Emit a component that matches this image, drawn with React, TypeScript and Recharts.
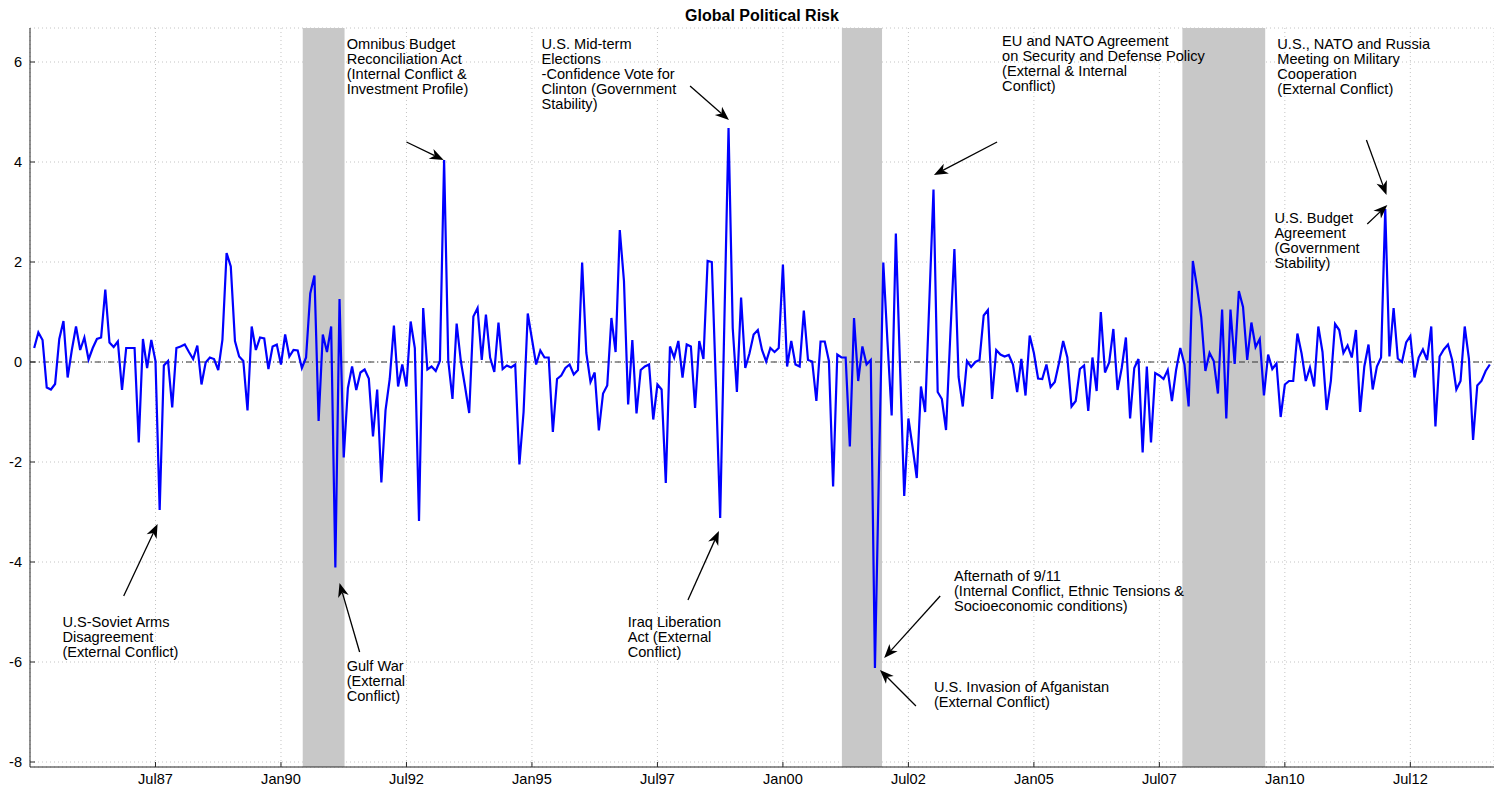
import React from 'react';
import {
  LineChart,
  Line,
  XAxis,
  YAxis,
  CartesianGrid,
  ReferenceArea,
  ReferenceLine,
  ReferenceDot,
} from 'recharts';

// month index counted from Jan 1985 (= 0); first observation is month 1
const startMonth = 1;

const riskValues: number[] = [
  0.28, 0.59, 0.44, -0.51, -0.55, -0.44, 0.46, 0.82, -0.31, 0.24, 0.71, 0.24,
  0.49, 0.05, 0.28, 0.46, 0.49, 1.45, 0.39, 0.3, 0.41, -0.56, 0.28, 0.28,
  0.28, -1.61, 0.46, -0.12, 0.44, 0.02, -2.96, -0.07, 0.02, -0.91, 0.28, 0.31,
  0.35, 0.2, 0.06, 0.33, -0.45, -0.01, 0.09, 0.06, -0.16, 0.44, 2.18, 1.91,
  0.42, 0.11, 0.02, -0.97, 0.71, 0.24, 0.49, 0.47, -0.14, 0.31, 0.35, -0.05,
  0.55, 0.11, 0.24, 0.23, -0.12, 0.09, 1.37, 1.73, -1.18, 0.55, 0.2, 0.71,
  -4.11, 1.26, -1.91, -0.52, -0.09, -0.56, -0.21, -0.15, -0.33, -1.49, -0.55, -2.41,
  -0.96, -0.34, 0.73, -0.49, -0.05, -0.49, 0.81, 0.28, -3.18, 1.08, -0.15, -0.09,
  -0.18, 0.02, 4.04, 0.02, -0.74, 0.77, 0.02, -0.49, -1.02, 0.91, 1.08, 0.04,
  0.95, 0.09, -0.2, 0.79, -0.14, -0.07, -0.11, -0.05, -2.05, -1.0, 0.97, 0.46,
  -0.05, 0.23, 0.09, 0.09, -1.4, -0.34, -0.27, -0.12, -0.05, -0.25, -0.16, 1.99,
  0.18, -0.4, -0.21, -1.37, -0.63, -0.47, 0.88, 0.2, 2.64, 1.62, -0.85, 0.44,
  -1.03, -0.16, -0.09, -0.05, -1.15, -0.45, -0.55, -2.42, 0.31, 0.09, 0.42, -0.31,
  0.35, 0.31, -0.92, 0.42, 0.06, 2.02, 2.0, -0.5, -3.12, 0.8, 4.68, 0.68,
  -0.6, 1.29, -0.12, 0.17, 0.55, 0.64, 0.24, 0.01, 0.28, 0.2, 0.28, 1.95,
  -0.09, 0.42, -0.05, -0.09, 1.03, 0.04, 0.01, -0.78, 0.41, 0.41, 0.02, -2.49,
  0.15, 0.09, 0.09, -1.69, 0.88, -0.38, 0.31, -0.05, 0.04, -6.12, -2.0, 1.99,
  0.4, -1.07, 2.57, -0.1, -2.68, -1.13, -1.7, -2.32, -0.49, -1.0, 1.2, 3.45,
  -0.6, -0.74, -1.36, 0.5, 2.26, -0.3, -0.89, 0.02, -0.1, 0.0, 0.04, 0.93,
  1.04, -0.74, 0.24, 0.15, 0.11, 0.14, -0.05, -0.6, 0.06, -0.67, 0.53, 0.18,
  -0.33, -0.34, -0.05, -0.5, -0.4, -0.02, 0.42, 0.09, -0.89, -0.78, -0.14, -0.07,
  -0.98, 0.09, -0.58, 1.0, -0.21, -0.01, 0.66, -0.56, -0.12, 0.49, -1.13, -0.12,
  0.06, -1.81, -0.09, -1.61, -0.22, -0.27, -0.34, -0.16, -0.78, -0.16, 0.28, -0.05,
  -0.89, 2.02, 1.5, 0.9, -0.18, 0.18, 0.02, -0.63, 1.05, -1.13, 1.05, -0.04,
  1.42, 1.1, 0.04, 0.79, 0.3, 0.46, -0.67, 0.15, -0.14, -0.03, -1.1, -0.45,
  -0.38, -0.38, 0.57, 0.17, -0.38, -0.11, -0.49, 0.71, 0.2, -0.96, -0.38, 0.76,
  0.64, 0.18, 0.33, 0.09, 0.64, -1.0, -0.09, 0.35, -0.55, -0.09, 0.09, 3.06,
  0.11, 1.08, 0.07, 0.0, 0.39, 0.52, -0.31, 0.09, 0.25, 0.04, 0.71, -1.29,
  0.11, 0.25, 0.35, 0.04, -0.55, -0.38, 0.71, 0.07, -1.56, -0.47, -0.38, -0.18,
  -0.05,
];

const tickMonths = [30, 60, 90, 120, 150, 180, 210, 240, 270, 300, 330];
const tickLabels = ['Jul87', 'Jan90', 'Jul92', 'Jan95', 'Jul97', 'Jan00', 'Jul02', 'Jan05', 'Jul07', 'Jan10', 'Jul12'];
const yTicks = [-8, -6, -4, -2, 0, 2, 4, 6];

const recessionStarts = [65.2, 194.1, 275.5];
const recessionEnds = [75.2, 203.7, 295.3];

const noteX = [7.75, 75.7, 75.7, 122.3, 142.9, 232.4, 220.9, 216.1, 298.2, 297.5];
const noteY = [-5.3, -6.18, 6.26, 6.26, -5.3, 6.32, -4.38, -6.6, 6.26, 2.78];
const noteLines: string[][] = [
  ['U.S-Soviet Arms', 'Disagreement', '(External Conflict)'],
  ['Gulf War', '(External', 'Conflict)'],
  ['Omnibus Budget', 'Reconciliation Act', '(Internal Conflict &', 'Investment Profile)'],
  ['U.S. Mid-term', 'Elections', '-Confidence Vote for', 'Clinton (Government', 'Stability)'],
  ['Iraq Liberation', 'Act (External', 'Conflict)'],
  ['EU and NATO Agreement', 'on Security and Defense Policy', '(External & Internal', 'Conflict)'],
  ['Afternath of 9/11', '(Internal Conflict, Ethnic Tensions &', 'Socioeconomic conditions)'],
  ['U.S. Invasion of Afganistan', '(External Conflict)'],
  ['U.S., NATO and Russia', 'Meeting on Military', 'Cooperation', '(External Conflict)'],
  ['U.S. Budget', 'Agreement', '(Government', 'Stability)'],
];

const arrowTailX = [22.4, 78.8, 90.0, 157.8, 157.3, 231.2, 217.6, 211.8, 319.5, 319.7];
const arrowTailY = [-4.68, -5.8, 4.4, 5.52, -4.76, 4.4, -4.68, -6.88, 4.44, 2.76];
const arrowHeadX = [30.5, 74.0, 98.9, 167.1, 164.7, 216.1, 204.2, 203.2, 324.3, 324.5];
const arrowHeadY = [-3.24, -4.42, 4.04, 4.84, -3.38, 3.74, -5.92, -6.16, 3.34, 3.14];

const FONT = '"Liberation Sans", Arial, Helvetica, sans-serif';
const AXIS_COLOR = '#262626';
const TEXT_SIZE = 14.6;

const data = riskValues.map((v, i) => ({ m: startMonth + i, v }));

const YTick = (props: any) => {
  const { x, y, payload } = props;
  return (
    <g>
      <line x1={x} x2={x + 5} y1={y} y2={y} stroke={AXIS_COLOR} strokeWidth={1} />
      <text x={x - 8} y={y} dy={5} textAnchor="end" fontSize={TEXT_SIZE} fontFamily={FONT} fill="#000">
        {payload.value}
      </text>
    </g>
  );
};

const XTick = (props: any) => {
  const { x, y, payload } = props;
  const idx = tickMonths.indexOf(payload.value);
  return (
    <g>
      <line x1={x} x2={x} y1={y} y2={y - 5} stroke={AXIS_COLOR} strokeWidth={1} />
      <text x={x} y={y} dy={17} textAnchor="middle" fontSize={TEXT_SIZE} fontFamily={FONT} fill="#000">
        {idx >= 0 ? tickLabels[idx] : ''}
      </text>
    </g>
  );
};

const ArrowShape = (p: any) => {
  const { x1, y1, x2, y2 } = p;
  const dx = x2 - x1;
  const dy = y2 - y1;
  const len = Math.hypot(dx, dy) || 1;
  const ux = dx / len;
  const uy = dy / len;
  const px = -uy;
  const py = ux;
  const L = 14;
  const W = 5.5;
  const notch = 10;
  const bx = x2 - ux * L;
  const by = y2 - uy * L;
  const nx = x2 - ux * notch;
  const ny = y2 - uy * notch;
  return (
    <g>
      <line x1={x1} y1={y1} x2={nx} y2={ny} stroke="#000" strokeWidth={1.3} />
      <polygon
        points={`${x2},${y2} ${bx + px * W},${by + py * W} ${nx},${ny} ${bx - px * W},${by - py * W}`}
        fill="#000"
      />
    </g>
  );
};

const makeNote = (lines: string[]) => (p: any) => {
  const { cx, cy } = p;
  return (
    <text x={cx} y={cy} fontSize={TEXT_SIZE} fontFamily={FONT} fill="#000">
      {lines.map((t, i) => (
        <tspan key={i} x={cx} y={cy + i * 15}>
          {t}
        </tspan>
      ))}
    </text>
  );
};

export default function App() {
  return (
    <div
      style={{
        position: 'absolute',
        left: 0,
        top: 0,
        width: 1494,
        height: 792,
        background: '#fff',
        fontFamily: FONT,
      }}
    >
      <div
        style={{
          position: 'absolute',
          left: 30,
          width: 1464,
          top: 7,
          textAlign: 'center',
          fontWeight: 'bold',
          fontSize: 16,
          lineHeight: '18px',
          fontFamily: FONT,
          color: '#000',
        }}
      >
        Global Political Risk
      </div>
      <LineChart width={1494} height={792} data={data} margin={{ top: 28, right: 0, bottom: 0, left: 0 }}>
        {recessionStarts.map((s, i) => (
          <ReferenceArea
            key={'r' + i}
            x1={s}
            x2={recessionEnds[i]}
            fill="#c8c8c8"
            fillOpacity={1}
            stroke="none"
            ifOverflow="visible"
          />
        ))}
        <CartesianGrid stroke="#c4c4c4" strokeDasharray="1 3" />
        <XAxis
          dataKey="m"
          type="number"
          domain={[0, 350]}
          ticks={tickMonths}
          allowDataOverflow
          height={25}
          tickSize={0}
          tickMargin={0}
          tickLine={false}
          stroke={AXIS_COLOR}
          tick={<XTick />}
          interval={0}
        />
        <YAxis
          type="number"
          domain={[-8.1, 6.68]}
          ticks={yTicks}
          allowDataOverflow
          width={30}
          tickSize={0}
          tickMargin={0}
          tickLine={false}
          stroke={AXIS_COLOR}
          tick={<YTick />}
          interval={0}
        />
        <ReferenceLine y={0} stroke="#333" strokeWidth={1.2} strokeDasharray="6 3 1 3" />
        <Line
          type="linear"
          dataKey="v"
          stroke="#0000ff"
          strokeWidth={2.2}
          dot={false}
          isAnimationActive={false}
        />
        {arrowTailX.map((tx, i) => (
          <ReferenceLine
            key={'a' + i}
            segment={[
              { x: tx, y: arrowTailY[i] },
              { x: arrowHeadX[i], y: arrowHeadY[i] },
            ]}
            ifOverflow="visible"
            shape={ArrowShape}
          />
        ))}
        {noteX.map((nx, i) => (
          <ReferenceDot
            key={'n' + i}
            x={nx}
            y={noteY[i]}
            r={0}
            ifOverflow="visible"
            shape={makeNote(noteLines[i])}
          />
        ))}
      </LineChart>
    </div>
  );
}
